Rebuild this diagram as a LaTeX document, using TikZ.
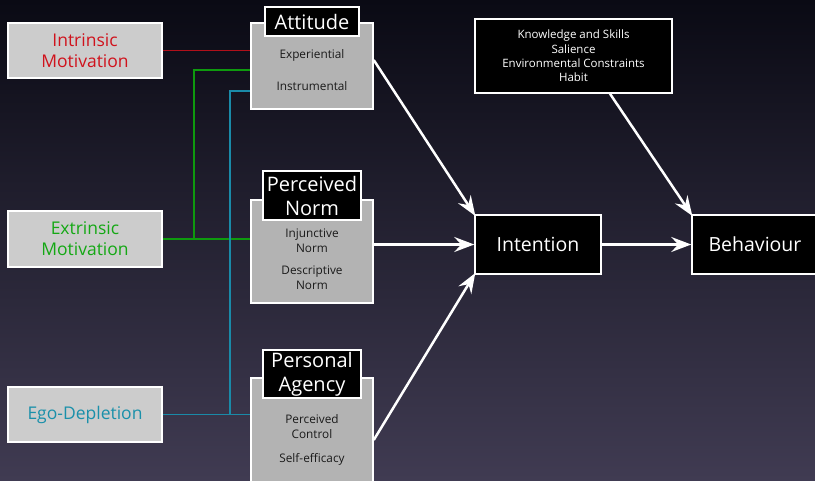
\documentclass[tikz,border=0pt]{standalone}
\usepackage{fontspec}
\setmainfont{Open Sans}
\usetikzlibrary{arrows.meta,calc}
\definecolor{bgtop}{HTML}{0A0A14}
\definecolor{bgmid}{HTML}{1C1B2F}
\definecolor{bgbot}{HTML}{403B52}
\definecolor{boxlight}{HTML}{CCCCCC}
\definecolor{boxgray}{HTML}{B3B3B3}
\definecolor{txtred}{HTML}{D0121C}
\definecolor{txtgreen}{HTML}{14A814}
\definecolor{txtteal}{HTML}{1A90AA}
\definecolor{lnred}{HTML}{B0101A}
\definecolor{lngreen}{HTML}{0E9A0E}
\definecolor{lnteal}{HTML}{1A8AA8}
\definecolor{darktxt}{HTML}{1A1A1A}
\tikzset{
  motbox/.style={draw=white, line width=1.5pt, fill=boxlight, minimum width=154pt, minimum height=55pt, inner sep=0pt, align=center, font=\fontsize{17.5}{21}\selectfont},
  grpbox/.style={draw=white, line width=1.5pt, fill=boxgray, minimum width=122pt, inner sep=0pt},
  ttlbox/.style={draw=white, line width=1.5pt, fill=black, text=white, inner sep=0pt, align=center, font=\fontsize{20}{24}\selectfont},
  smalltxt/.style={text=darktxt, align=center, font=\fontsize{11.8}{15}\selectfont},
  mainbox/.style={draw=white, line width=1.5pt, fill=black, text=white, minimum width=126pt, minimum height=59pt, inner sep=0pt, font=\fontsize{19.5}{22}\selectfont},
  flow/.style={draw=white, line width=2.5pt, -{Stealth[length=20pt, width=15pt, inset=7pt]}},
  link/.style={line width=1.6pt}
}
\begin{document}
\begin{tikzpicture}[x=1pt, y=-1pt]
\shade[top color=bgtop, middle color=bgmid, bottom color=bgbot] (0,0) rectangle (815,480);
\useasboundingbox (0,0) rectangle (815,480);

% motivation boxes
\node[motbox, text=txtred] (intr) at (85,50.5) {Intrinsic\\Motivation};
\node[motbox, text=txtgreen, minimum height=56pt] (extr) at (85,239) {Extrinsic\\Motivation};
\node[motbox, text=txtteal] (ego) at (85,414.5) {Ego-Depletion};

% group boxes
\node[grpbox, minimum height=86pt] (att) at (312,66) {};
\node[grpbox, minimum height=103pt] (norm) at (312,251.5) {};
\node[grpbox, minimum height=124pt] (agency) at (312,440) {};

% coloured links
\draw[link, lnred] (intr.east) -- (intr.east -| att.west);
\draw[link, lngreen] (extr.east) -- (extr.east -| norm.west);
\draw[link, lngreen] ($(extr.east)+(31.5,0)$) |- ([yshift=-4pt]att.west);
\draw[link, lnteal] (ego.east) -- (ego.east -| agency.west);
\draw[link, lnteal] ($(ego.east)+(67.5,0)$) |- ([yshift=-25pt]att.west);

% redraw group boxes over links
\node[grpbox, minimum height=86pt] at (att) {};
\node[grpbox, minimum height=103pt] at (norm) {};
\node[grpbox, minimum height=124pt] at (agency) {};

% title boxes
\node[ttlbox, minimum width=94pt, minimum height=29pt] (attT) at (312,21.5) {Attitude};
\node[ttlbox, minimum width=98pt, minimum height=49pt] (normT) at (312,195.5) {Perceived\\Norm};
\node[ttlbox, minimum width=98pt, minimum height=48pt] (agencyT) at (312,374) {Personal\\Agency};

% small texts
\node[smalltxt] (exp) at (312,55) {Experiential};
\node[smalltxt] (ins) at (312,86) {Instrumental};
\node[smalltxt] (inj) at (312,240.5) {Injunctive\\Norm};
\node[smalltxt] (des) at (312,277.5) {Descriptive\\Norm};
\node[smalltxt] (pc) at (312,426.5) {Perceived\\Control};
\node[smalltxt] (se) at (312,459) {Self-efficacy};

% main boxes
\node[mainbox] (intention) at (538,244.5) {Intention};
\node[mainbox] (beh) at (755,244.5) {Behaviour};
\node[draw=white, line width=1.5pt, fill=black, text=white, minimum width=197pt, minimum height=74pt, inner sep=0pt, align=center, font=\fontsize{11.5}{14.3}\selectfont] (know) at (573.5,56) {Knowledge and Skills\\Salience\\Environmental Constraints\\Habit};

% arrows
\draw[flow, shorten >=-2pt] ([yshift=6pt]att.east) -- (intention.north west);
\draw[flow] (norm.east |- intention.west) -- (intention.west);
\draw[flow, shorten >=-2pt] (agency.east) -- (intention.south west);
\draw[flow] (intention.east) -- (beh.west);
\draw[flow, shorten >=-2pt] ([xshift=36.5pt]know.south) -- (beh.north west);
\end{tikzpicture}
\end{document}
